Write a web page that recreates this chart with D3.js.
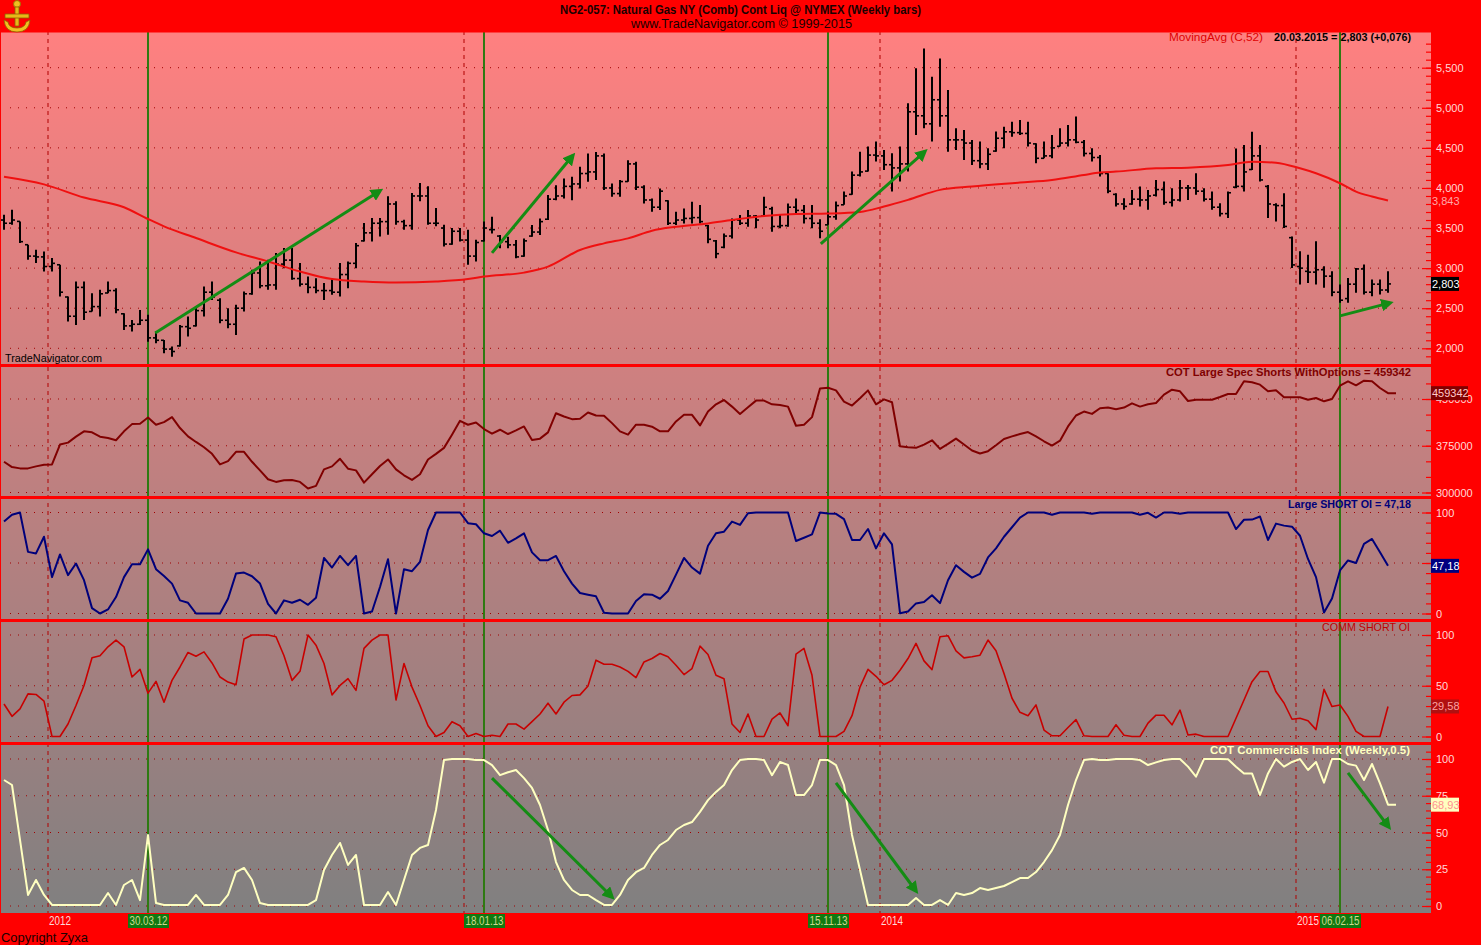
<!DOCTYPE html>
<html><head><meta charset="utf-8">
<script src="https://cdn.jsdelivr.net/npm/d3@7"></script>
<style>body{margin:0;background:#ff0000;overflow:hidden}svg{display:block}</style>
</head><body>
<svg id="c" width="1481" height="945"></svg>
<script>
// ---------------- DATA ----------------
const firstBar = new Date(2011, 10, 25), lastBar = new Date(2015, 2, 20);
const high = [3667,3729,3583,3292,3229,3208,3125,3042,2646,2833,
2833,2688,2729,2833,2750,2438,2354,2479,2417,2208,
2104,2021,2292,2396,2521,2771,2833,2625,2500,2542,
2708,2979,3083,3104,3188,3250,3250,3063,2896,2875,
2813,2875,3063,3083,3313,3563,3625,3625,3896,3833,
3604,3938,4063,4021,3750,3542,3500,3500,3479,3354,
3583,3641,3413,3392,3350,3371,3537,3620,3911,4035,
4118,4139,4263,4429,4450,4429,4056,4098,4346,4326,
4035,3869,3994,3848,3703,3745,3828,3786,3537,3350,
3433,3620,3662,3724,3662,3890,3765,3662,3807,3869,
3786,3786,3610,3706,3830,3955,4204,4453,4516,4578,
4474,4433,4516,5056,5492,5741,5388,5616,5222,4744,
4723,4599,4578,4495,4703,4765,4827,4848,4827,4557,
4578,4661,4744,4786,4890,4599,4495,4412,4184,3934,
3872,3976,4017,3976,4100,4079,3996,4100,4038,4183,
3996,3955,3810,3955,4493,4535,4701,4535,4038,3810,
3934,3396,3209,3168,3334,3023,2961,2795,2878,3002,
3044,2857,2857,2961];
const low = [3479,3542,3313,3104,3063,2958,2958,2646,2333,2292,
2354,2458,2396,2688,2438,2229,2208,2292,2083,2063,
1938,1896,2021,2146,2271,2396,2604,2313,2250,2167,
2458,2667,2750,2729,2729,3000,2854,2771,2688,2688,
2604,2667,2646,2750,3000,3333,3333,3396,3417,3542,
3479,3479,3833,3542,3521,3271,3292,3333,3042,3083,
3333,3433,3247,3247,3122,3143,3392,3413,3600,3848,
3869,3848,3994,4077,4098,3973,3890,3890,4077,3973,
3807,3703,3724,3537,3537,3558,3558,3558,3309,3122,
3247,3371,3537,3516,3496,3641,3454,3496,3516,3683,
3558,3496,3374,3540,3602,3789,3914,4142,4204,4329,
4225,3955,4080,4204,4661,4744,4578,4765,4453,4474,
4350,4287,4246,4225,4453,4495,4640,4661,4516,4308,
4370,4370,4516,4516,4557,4391,4329,4142,3934,3768,
3727,3789,3768,3727,3893,3789,3769,3831,3851,3914,
3831,3727,3644,3624,3996,3955,4224,4079,3624,3582,
3499,3002,2795,2816,2795,2754,2650,2567,2567,2692,
2671,2650,2671,2692];
const close = [3560,3600,3330,3150,3140,3020,3060,2700,2400,2760,
2450,2520,2680,2720,2480,2280,2300,2350,2130,2100,
1990,1960,2270,2250,2470,2700,2640,2350,2300,2500,
2680,2940,2780,2790,3050,3100,2870,2800,2760,2720,
2720,2700,2920,3060,3280,3440,3560,3580,3800,3580,
3530,3900,3900,3560,3560,3300,3460,3350,3150,3320,
3500,3480,3330,3290,3140,3340,3450,3580,3860,3900,
4020,4050,4180,4200,4400,4000,3930,4080,4300,4010,
3850,3760,3960,3560,3600,3620,3630,3580,3360,3180,
3400,3600,3560,3650,3600,3760,3520,3530,3760,3720,
3620,3560,3460,3640,3780,3900,4160,4200,4410,4400,
4290,4250,4300,4950,4900,4800,5100,4900,4600,4600,
4560,4340,4300,4420,4620,4700,4690,4680,4560,4370,
4400,4500,4560,4600,4570,4430,4380,4180,3960,3800,
3770,3860,3850,3900,3980,3820,3850,4000,4000,3960,
3860,3760,3680,3940,4020,4200,4400,4100,3800,3780,
3520,3040,3000,2950,2980,2900,2700,2600,2800,2990,
2700,2800,2727,2803];
const open = [3600,3560,3600,3330,3150,3140,3020,3060,2640,2400,
2760,2460,2520,2690,2720,2430,2280,2300,2350,2130,
2100,1990,2030,2270,2280,2470,2700,2600,2350,2300,
2500,2680,2940,2780,2790,3050,3100,2870,2800,2760,
2720,2720,2700,2920,3060,3340,3440,3560,3580,3800,
3580,3530,3900,3900,3560,3500,3300,3460,3350,3150,
3340,3480,3400,3330,3290,3150,3400,3450,3610,3860,
3900,4020,4050,4180,4200,4400,4000,3930,4080,4300,
4010,3850,3760,3840,3560,3600,3620,3630,3530,3340,
3260,3400,3600,3560,3650,3650,3740,3520,3530,3760,
3720,3620,3560,3460,3640,3790,3920,4160,4210,4410,
4400,4290,4250,4300,4950,4900,4800,5100,4900,4600,
4600,4560,4340,4300,4460,4620,4700,4690,4680,4550,
4370,4400,4520,4560,4600,4570,4430,4380,4180,3920,
3800,3800,3860,3850,3910,3980,3820,3850,4000,4000,
3960,3860,3760,3680,4010,4020,4230,4400,4020,3790,
3780,3380,3020,2960,2950,2980,2900,2700,2620,2800,
2990,2700,2800,2727];
const maIndex = [0,5,10,15,18,20,24,29,33,37,41,45,49,54,58,60,65,68,72,75,78,81,84,88,91,95,99,103,107,110,113,117,121,127,131,135,137,139,144,148,153,156,159,162,164,167,169,171,173];
const maValue = [4140,4045,3880,3760,3613,3521,3375,3196,3083,2958,2863,2833,2821,2833,2863,2896,2944,3018,3226,3309,3371,3467,3516,3558,3600,3649,3674,3680,3700,3768,3851,3976,4017,4067,4100,4163,4192,4204,4245,4253,4286,4328,4315,4245,4183,4059,3955,3893,3843];
const largeSpecShorts = [349300,340800,338700,338700,341900,344500,345000,376900,380000,389600,
398100,396500,389600,387500,383800,398100,409700,410300,420300,408700,
412900,420900,403400,390100,381100,372600,362000,345100,350400,365200,
365200,349300,335500,321200,317000,319600,320200,317000,306400,310600,
337100,341900,354100,338200,335500,315900,329200,342600,353000,337100,
327600,320200,329200,353000,362000,371600,392800,415000,408700,412400,
401800,394400,400700,393800,399600,406000,384300,386400,396500,427200,
421900,417700,418200,428300,423500,423000,411300,398100,392800,408700,
408700,405500,398100,398100,414000,424600,424600,407600,429900,441500,
448400,437800,426100,436800,447400,447400,441500,440500,437800,407100,
408700,420900,467000,468000,463800,445800,439400,451100,463800,441500,
449500,444700,374200,372600,371600,376900,383800,370000,377900,386400,
376900,367300,362600,366300,375800,385900,390100,393800,397000,390100,
382200,375300,383200,406000,423500,429900,426100,435200,436200,433600,
436200,443100,437800,441500,443600,457000,465000,462300,446800,448900,
448900,448900,453200,458000,458000,478400,476800,473000,462300,463900,
452700,452700,452700,448900,451600,446300,450000,471400,478400,471900,
479400,478400,467700,459342];
const largeShortOI = [91,97.7,100,61,59.5,76,36,58.5,38,49.5,
33,5.3,0,4,16.3,36,48.8,48.8,63.5,43.9,
37.2,29.6,13,10.6,0,0,0,0,14.6,39.5,
40.5,36.9,29.6,9.6,0,13,10.6,13.6,8.6,15.6,
55,45.5,57,47.8,57,0,2,26.2,53.8,0,
43.9,41.9,51.2,82.7,100,100,100,100,89.4,88.4,
79.4,76.7,82,70,74.4,79.4,60.5,52.8,52.8,57,
41.9,29.6,20.3,18.6,17,0.7,0,0,0,12.3,
19,18.6,14.6,22.3,38.5,55,45.5,39.5,67,79.4,
81,91,87.7,99.3,100,100,100,100,100,71.8,
75,78.4,100,99,98.7,93.4,72.8,72.8,83.7,64.5,
79.4,68.4,0.3,2,10,11.3,18,10.3,32.9,47.8,
41.2,35.5,39.2,55.5,64.5,76,85.4,95,100,100,
100,97.7,100,100,100,100,98.7,100,100,100,
100,100,97.7,99.7,95,100,100,98.7,100,100,
100,100,100,100,83.6,92.8,93,96,72.8,89,
87,86,77,54,36,1,14.8,42.6,52.5,50,
68.9,73.8,60.7,47.18];
const commShortOI = [32,19.9,27.2,42,41.4,34.8,0,0,12.3,30.5,
50.3,77.5,79.5,88.4,95,88.4,58.6,66.2,42.7,54.3,
33.8,55.3,68.5,82.8,79.1,83.4,72.5,58.6,53.6,51,
96,100,100,100,98.3,79.5,55.3,64.2,100,90,
71.9,41,50.3,57,45.4,86.8,95,100,100,36,
71.9,48.7,30.5,10.6,0,4,14.6,10.6,0,3,
0,1.3,0,12.3,12.3,7.3,14.6,22.2,32.8,22.2,
33.8,40.4,41,49.7,75.2,71.2,71.2,68.5,64.2,58,
73.5,76.8,81.8,78.5,70.2,61,66.9,89,80.8,60.3,
57,12.3,4,22.2,0,0,17.2,23.2,10.6,81.1,
86.8,60.3,0,0,0,5,20.5,48.7,66.2,59.3,
51,55.3,65.2,76.8,91.7,74.5,65.9,98.3,99.3,84.4,
77.5,78.5,80.1,95,84.4,62,37.7,23.8,20.5,31.1,
6.3,0.7,0.7,8.9,16.6,0.7,0,0,0,11.6,
1.3,0,0,13.2,21,21,11.5,26,1.5,2.3,
0,0,0,0,18,36,54,64,64,44,
33,17,18,15.6,6.8,46.5,29.5,31,19.8,5,
0,0,0,29.58];
const cotCommIndex = [85.7,82.3,45,7.5,17.7,7.5,0.7,0.7,0.7,0.7,
0.7,0.7,0.7,8.8,0.7,14.3,17.7,4,48.3,2,
0.7,0.7,0.7,0.7,7.5,0.7,0.7,0.7,7.5,23,
25.9,17.7,2,0.7,0.7,0.7,0.7,0.7,0.7,4,
24.5,34.7,42.9,27.9,34.7,0.7,0.7,0.7,9.5,0.7,
17.7,34.7,39.5,41.5,65.3,99.3,100,100,100,99.3,
99.3,95.9,89,91,92.5,87,80.3,68.7,51.7,29.9,
17.7,10.9,7.5,7.5,4,0.7,0.7,7.5,17.7,23,
25.9,34.7,41.5,44.9,51.7,55.1,57.1,64,72,77.6,
82.3,92.5,99.3,100,100,99.3,89,98,95.9,75.5,
75.5,82.3,99.3,99.3,95.9,82.3,48.3,24.5,0.7,0.7,
0.7,0.7,0.7,0.7,5.4,0.7,0.7,4,0.7,8.8,
7.5,8.8,12.2,10.9,12.2,13.6,16.3,19,19,23.1,
29.9,38,48.3,68.7,85.7,99.3,100,99.3,99.3,100,
100,100,99.3,95.9,97.7,99.3,100,100,94.8,88,
100,100,100,99.8,94.8,90.2,90.2,75.5,90.2,100,
94.8,98,100,92.5,98,83.9,100,100,96.6,95.5,
85.7,96.6,83.4,68.93];
const markerDates = ["2012-03-30","2013-01-18","2013-11-15","2015-02-06"];
const markerLabels = ["30.03.12","18.01.13","15.11.13","06.02.15"];
const yearLabels = ["2012","2013","2014","2015"];
const shownYearLabels = ["2012","2014","2015"];   // 2013 hidden behind the 18.01.13 marker box
const priceTicks = [2000,2500,3000,3500,4000,4500,5000,5500];
const specTicks = [300000,375000,450000];
const oiTicks = [0,50,100];
const largeOiLabels = [0,100];                   // 50 hidden behind the 47,18 box
const cotTicks = [0,25,50,75,100];
// arrows: [panel, fromIndex, fromValue, toIndex, toValue]
const arrowPanel = ["price","price","price","price","cot","cot","cot"];
const arrowFromIdx = [18.9,61,102.1,167,61,104,168];
const arrowFromVal = [2191,3190,3304,2404,87,83.7,90.5];
const arrowToIdx = [47,71.1,115.1,173.25,76,114,173.1];
const arrowToVal = [3966,4404,4454,2566,6.1,10.2,53.7];

// ---------------- LAYOUT ----------------
const svg = d3.select("#c");
const L = 1, R = 1431, TOP = 31, BOT = 913;
const FONT = "'Liberation Sans', Arial, sans-serif";
const dates = d3.timeFriday.range(firstBar, d3.timeDay.offset(lastBar, 1));
const x = d3.scaleTime().domain([firstBar, lastBar]).range([4, 1388]);
const xi = d3.scaleLinear().domain([0, dates.length - 1]).range([4, 1388]);
const halfStep = (xi(1) - xi(0)) / 2;

const panels = {
  price: {top: 32, bottom: 364, y: d3.scaleLinear([2000, 5500], [348.3, 67.7])},
  spec:  {top: 367, bottom: 496, y: d3.scaleLinear([300000, 450000], [492.5, 399])},
  large: {top: 499, bottom: 619, y: d3.scaleLinear([0, 100], [613.5, 512.5])},
  comm:  {top: 622, bottom: 742, y: d3.scaleLinear([0, 100], [736.5, 635])},
  cot:   {top: 745, bottom: 912, y: d3.scaleLinear([0, 100], [906, 759])}
};

const defs = svg.append("defs");
const grad = defs.append("linearGradient").attr("id", "bg").attr("x1", 0).attr("y1", 0).attr("x2", 0).attr("y2", 1);
grad.append("stop").attr("offset", "0%").attr("stop-color", "#ff8080");
grad.append("stop").attr("offset", "100%").attr("stop-color", "#808080");
Object.entries(panels).forEach(([k, p]) => {
  defs.append("clipPath").attr("id", "clip-" + k).append("rect")
    .attr("x", L).attr("y", p.top).attr("width", R - L).attr("height", p.bottom - p.top);
});
defs.append("marker").attr("id", "ah").attr("viewBox", "0 0 10 10").attr("refX", 7).attr("refY", 5)
  .attr("markerWidth", 4.2).attr("markerHeight", 4.2).attr("orient", "auto")
  .append("path").attr("d", "M0,0 L10,5 L0,10 z").attr("fill", "#148c14");

svg.append("rect").attr("width", 1481).attr("height", 945).attr("fill", "#ff0000");
svg.append("rect").attr("x", L).attr("y", TOP).attr("width", R - L).attr("height", BOT - TOP).attr("fill", "url(#bg)");

// horizontal dotted gridlines
function grid(p, vals) {
  svg.append("g").selectAll("line").data(vals).join("line")
    .attr("x1", 10).attr("x2", 1420).attr("y1", d => p.y(d)).attr("y2", d => p.y(d))
    .attr("stroke", "#a00000").attr("stroke-width", 1).attr("stroke-dasharray", "1,7");
}
grid(panels.price, priceTicks);
grid(panels.spec, specTicks);
grid(panels.large, oiTicks);
grid(panels.comm, oiTicks);
grid(panels.cot, cotTicks);

// year dashed lines: halfway between last bar of old year and first bar of new year
const yearX = y => x(d3.timeFriday.ceil(new Date(+y, 0, 1))) - halfStep;
svg.append("g").selectAll("line").data(yearLabels).join("line")
  .attr("x1", d => yearX(d)).attr("x2", d => yearX(d)).attr("y1", TOP).attr("y2", BOT)
  .attr("stroke", "#b00000").attr("stroke-width", 1).attr("stroke-dasharray", "4,4");

// green marker lines
const mDates = markerDates.map(s => d3.timeParse("%Y-%m-%d")(s));
svg.append("g").selectAll("line").data(mDates).join("line")
  .attr("x1", d => Math.round(x(d))).attr("x2", d => Math.round(x(d))).attr("y1", TOP).attr("y2", BOT)
  .attr("stroke", "#2e7a12").attr("stroke-width", 2);

// ---- price bars ----
const P = panels.price;
const bars = svg.append("g").attr("clip-path", "url(#clip-price)");
const barData = dates.map((d, i) => ({d, h: high[i], l: low[i], o: open[i], c: close[i]}));
const clampV = (v, b) => Math.max(b.l, Math.min(b.h, v));
bars.selectAll("line.hl").data(barData).join("line").attr("class", "hl")
  .attr("x1", b => Math.round(x(b.d))).attr("x2", b => Math.round(x(b.d)))
  .attr("y1", b => P.y(b.h)).attr("y2", b => P.y(b.l)).attr("stroke", "#000").attr("stroke-width", 2);
bars.selectAll("line.op").data(barData).join("line").attr("class", "op")
  .attr("x1", b => Math.round(x(b.d)) - 3).attr("x2", b => Math.round(x(b.d)))
  .attr("y1", b => P.y(clampV(b.o, b))).attr("y2", b => P.y(clampV(b.o, b))).attr("stroke", "#000").attr("stroke-width", 1.6);
bars.selectAll("line.cl").data(barData).join("line").attr("class", "cl")
  .attr("x1", b => Math.round(x(b.d))).attr("x2", b => Math.round(x(b.d)) + 3)
  .attr("y1", b => P.y(clampV(b.c, b))).attr("y2", b => P.y(clampV(b.c, b))).attr("stroke", "#000").attr("stroke-width", 1.6);

// moving average
svg.append("path").attr("clip-path", "url(#clip-price)")
  .datum(maIndex.map((k, j) => [xi(k), P.y(maValue[j])]))
  .attr("d", d3.line().curve(d3.curveMonotoneX))
  .attr("fill", "none").attr("stroke", "#f01010").attr("stroke-width", 2);

// indicator lines (COT-based series hold their last value for one more bar)
function seriesLine(key, vals, color, w, hold) {
  const p = panels[key];
  const pts = vals.map((v, i) => [xi(i), p.y(v)]);
  if (hold) pts.push([xi(vals.length), p.y(vals[vals.length - 1])]);
  svg.append("path").attr("clip-path", "url(#clip-" + key + ")")
    .datum(pts).attr("d", d3.line()).attr("fill", "none").attr("stroke", color)
    .attr("stroke-width", w).attr("stroke-linejoin", "round");
}
seriesLine("spec", largeSpecShorts, "#800000", 2, true);
seriesLine("large", largeShortOI, "#00007a", 2, false);
seriesLine("comm", commShortOI, "#c80000", 1.6, false);
seriesLine("cot", cotCommIndex, "#ffffc0", 2, true);

// arrows
arrowPanel.forEach((k, j) => {
  const p = panels[k];
  svg.append("line")
    .attr("x1", xi(arrowFromIdx[j])).attr("y1", p.y(arrowFromVal[j]))
    .attr("x2", xi(arrowToIdx[j])).attr("y2", p.y(arrowToVal[j]))
    .attr("stroke", "#148c14").attr("stroke-width", 3).attr("marker-end", "url(#ah)");
});

// panel separators
svg.append("g").selectAll("line").data([TOP, 365.5, 497.5, 620.5, 743.5]).join("line")
  .attr("x1", 0).attr("x2", R).attr("y1", d => d).attr("y2", d => d)
  .attr("stroke", "#ff0000").attr("stroke-width", 3);
svg.append("line").attr("x1", 0.5).attr("x2", 0.5).attr("y1", TOP).attr("y2", BOT).attr("stroke", "#ff0000").attr("stroke-width", 1);
svg.append("rect").attr("x", R).attr("y", 0).attr("width", 1481 - R).attr("height", 945).attr("fill", "#ff0000");
svg.append("rect").attr("x", 0).attr("y", BOT).attr("width", 1481).attr("height", 945 - BOT).attr("fill", "#ff0000");

// right axes
function rightAxis(key, major, labels, minor, fmt) {
  const p = panels[key];
  const gm = svg.append("g").attr("transform", `translate(${R},0)`)
    .call(d3.axisRight(p.y).tickValues(minor).tickSize(-5).tickFormat(""));
  gm.select(".domain").remove();
  gm.selectAll("line").attr("stroke", "#ff0000").attr("stroke-width", 1.2);
  const g = svg.append("g").attr("transform", `translate(${R},0)`)
    .call(d3.axisRight(p.y).tickValues(major).tickSize(-9).tickPadding(5)
      .tickFormat(d => labels.includes(d) ? fmt(d) : ""));
  g.select(".domain").remove();
  g.selectAll("line").attr("stroke", "#ff0000").attr("stroke-width", 1.2);
  g.selectAll("text").attr("fill", "#ffd8d8").attr("font-family", FONT).attr("font-size", 11);
}
rightAxis("price", priceTicks, priceTicks, d3.range(1900, 5901, 100).filter(v => v <= 5850), d3.format(","));
rightAxis("spec", specTicks, specTicks, d3.range(300000, 475001, 25000), d3.format("d"));
rightAxis("large", oiTicks, largeOiLabels, d3.range(0, 101, 10), d3.format("d"));
rightAxis("comm", oiTicks, oiTicks, d3.range(0, 101, 10), d3.format("d"));
rightAxis("cot", cotTicks, cotTicks, d3.range(0, 106, 5), d3.format("d"));

// value boxes
function valueBox(key, v, label, bg, fg, w) {
  const y = panels[key].y(v);
  svg.append("rect").attr("x", R).attr("y", y - 7).attr("width", w).attr("height", 14).attr("fill", bg);
  svg.append("text").attr("x", R + 1).attr("y", y + 4).text(label)
    .attr("fill", fg).attr("font-family", FONT).attr("font-size", 11);
}
svg.append("text").attr("x", R + 1).attr("y", panels.price.y(maValue[maValue.length - 1]) + 4).text("3,843")
  .attr("fill", "#ffa8a8").attr("font-family", FONT).attr("font-size", 11);
valueBox("price", close[close.length - 1], "2,803", "#000000", "#ffffff", 28);
valueBox("spec", largeSpecShorts[largeSpecShorts.length - 1], "459342", "#800000", "#ffc8c8", 37);
valueBox("large", largeShortOI[largeShortOI.length - 1], "47,18", "#000080", "#ffffff", 28);
valueBox("comm", commShortOI[commShortOI.length - 1], "29,58", "#b01010", "#ffa0a0", 28);
valueBox("cot", cotCommIndex[cotCommIndex.length - 1], "68,93", "#ffffc0", "#ff9090", 28);

// texts
function txt(s, xx, yy, o) {
  const t = svg.append("text").attr("x", xx).attr("y", yy).text(s)
    .attr("font-family", o.family || FONT).attr("font-size", o.size || 11)
    .attr("font-weight", o.weight || "normal").attr("fill", o.fill || "#000")
    .attr("text-anchor", o.anchor || "start");
  if (o.len) t.attr("textLength", o.len).attr("lengthAdjust", "spacingAndGlyphs");
  return t;
}
txt("NG2-057:  Natural Gas NY (Comb) Cont Liq @ NYMEX  (Weekly bars)", 560, 13.5, {size: 12, weight: "bold", fill: "#1a0000", len: 361});
txt("www.TradeNavigator.com \u00a9 1999-2015", 631, 28, {size: 13, fill: "#1a0000", len: 221});
txt("MovingAvg (C,52)", 1169, 41, {fill: "#e00000", len: 94});
txt("20.03.2015 = 2,803 (+0,076)", 1274, 41, {weight: "bold", fill: "#000", len: 137});
txt("COT Large Spec Shorts WithOptions = 459342", 1166, 376, {weight: "bold", fill: "#800000", len: 245});
txt("Large SHORT OI = 47,18", 1288, 508, {weight: "bold", fill: "#00007a", len: 123});
txt("COMM SHORT OI", 1322, 631, {fill: "#c00000", len: 88});
txt("COT Commercials Index (Weekly,0.5)", 1210, 754, {weight: "bold", fill: "#ffffc0", len: 200});
txt("TradeNavigator.com", 5, 362, {fill: "#000", len: 97});
txt("Copyright Zyxa", 1, 942, {size: 13, fill: "#200000", len: 87});

// year labels (bottom)
svg.append("g").selectAll("text").data(shownYearLabels).join("text")
  .attr("x", d => yearX(d) + 1).attr("y", 925).text(d => d)
  .attr("font-family", FONT).attr("font-size", 12).attr("fill", "#ffd8d8")
  .attr("textLength", 22).attr("lengthAdjust", "spacingAndGlyphs");
// marker labels
const ml = svg.append("g").selectAll("g").data(mDates).join("g")
  .attr("transform", d => `translate(${Math.round(x(d))},0)`);
ml.append("rect").attr("x", -20).attr("y", 914).attr("width", 41).attr("height", 14).attr("fill", "#117a11");
ml.append("text").attr("x", 0.5).attr("y", 925).attr("text-anchor", "middle").text((d, i) => markerLabels[i])
  .attr("font-family", FONT).attr("font-size", 12).attr("fill", "#d0d890")
  .attr("textLength", 38).attr("lengthAdjust", "spacingAndGlyphs");

// logo
const lg = svg.append("g").attr("transform", "translate(17,0)");
lg.append("circle").attr("cx", 0).attr("cy", 4).attr("r", 3.5).attr("fill", "#f0c020").attr("stroke", "#a07000");
lg.append("path").attr("d", "M-2,7 L2,7 L2,26 L-2,26 Z").attr("fill", "#e8b818").attr("stroke", "#906000").attr("stroke-width", 0.8);
lg.append("path").attr("d", "M-12,14 L12,14 L12,18 L-12,18 Z").attr("fill", "#e8b818").attr("stroke", "#906000").attr("stroke-width", 0.8);
lg.append("path").attr("d", "M-13,20 Q-12,32 0,32 Q12,32 13,20 L9,22 Q8,28 0,28 Q-8,28 -9,22 Z").attr("fill", "#f0c020").attr("stroke", "#906000").attr("stroke-width", 0.8);
</script>
</body></html>
